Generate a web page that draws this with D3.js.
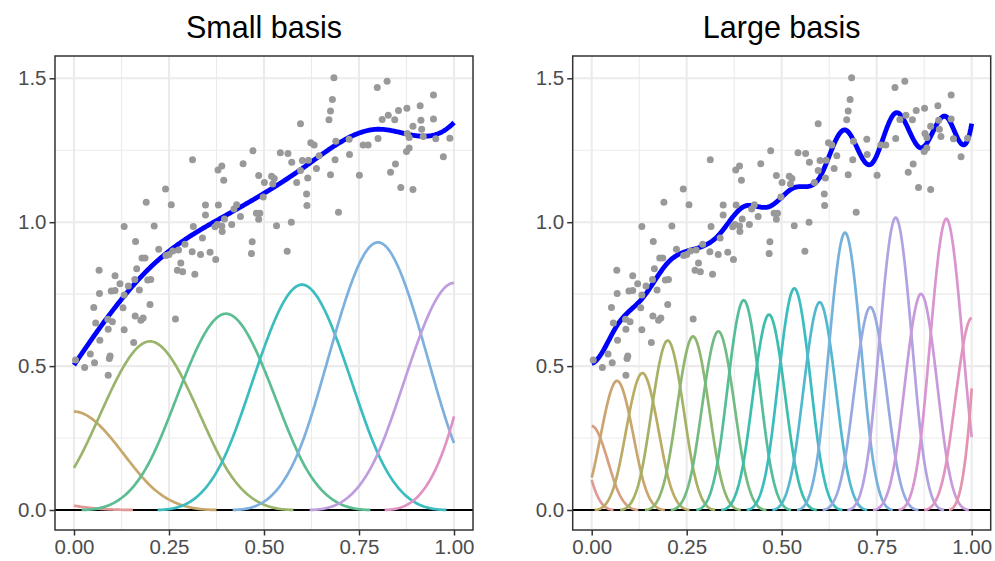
<!DOCTYPE html>
<html>
<head>
<meta charset="utf-8">
<script src="https://cdn.jsdelivr.net/npm/d3@7"></script>
<style>
  html, body { margin: 0; padding: 0; background: #ffffff; }
  svg { display: block; }
</style>
</head>
<body>
<svg id="chart" width="995" height="561"></svg>
<script>
// ---------------- data ----------------
const pointX = [
  0.004,0.028,0.054,0.043,0.090,0.095,0.093,0.068,0.057,0.052,0.067,0.066,0.089,0.101,0.090,0.132,
  0.098,0.108,0.108,0.121,0.132,0.143,0.129,0.157,0.161,0.176,0.182,0.172,0.160,0.165,0.162,0.132,
  0.179,0.187,0.190,0.200,0.194,0.202,0.211,0.223,0.241,0.256,0.267,0.242,0.250,0.260,0.275,0.281,
  0.272,0.286,0.292,0.311,0.314,0.312,0.318,
  0.338,0.333,0.358,0.373,0.346,0.346,0.380,0.379,0.389,0.394,0.371,0.377,0.389,0.390,0.396,0.415,
  0.421,0.428,0.438,0.445,0.471,0.469,0.467,0.480,0.489,0.486,0.486,0.498,0.501,0.520,0.527,0.523,
  0.533,0.543,0.563,0.573,0.572,0.561,0.586,0.596,0.596,0.601,0.617,0.615,0.612,0.613,0.623,0.632,
  0.638,0.645,
  0.684,0.680,0.675,0.671,0.689,0.687,0.675,0.696,0.724,0.725,0.751,0.761,0.774,0.798,0.824,0.800,
  0.811,0.827,0.844,0.854,0.876,0.846,0.833,0.860,0.892,0.877,0.882,0.875,0.882,0.892,0.911,0.913,
  0.915,0.919,0.946,0.946,0.952,0.972,0.989
];
const pointY = [
  0.521,0.495,0.512,0.542,0.468,0.535,0.526,0.590,0.650,0.704,0.752,0.833,0.663,0.654,0.628,0.626,
  0.761,0.763,0.814,0.786,0.747,0.778,0.703,0.582,0.674,0.659,0.667,0.764,0.801,0.838,0.933,0.985,
  0.876,0.876,1.069,0.714,0.799,0.801,0.987,0.906,1.115,1.061,0.664,0.884,0.888,0.900,0.903,0.858,
  0.833,0.828,0.923,0.897,0.985,1.217,0.819,
  0.945,0.888,0.896,0.870,1.060,1.025,1.060,1.181,1.195,1.146,0.984,0.992,0.987,0.968,1.011,0.992,
  1.046,1.061,1.020,1.203,1.248,0.932,0.891,1.031,1.031,1.010,1.162,1.088,1.138,1.160,1.152,1.133,
  0.988,1.241,1.239,1.208,1.000,0.899,1.138,1.180,1.342,1.214,1.215,1.154,1.098,1.058,1.276,1.268,
  1.187,1.231,
  1.502,1.426,1.386,1.356,1.281,1.217,1.165,1.035,1.288,1.235,1.163,1.268,1.268,1.468,1.490,1.291,
  1.357,1.372,1.356,1.388,1.396,1.202,1.174,1.121,1.114,1.308,1.294,1.246,1.258,1.333,1.405,1.354,
  1.323,1.298,1.442,1.359,1.290,1.227,1.292
];

// basis function centres (cubic B-splines on uniform knots) and their peak heights
const smallSpacing = 0.2;
const smallCenters = [-0.2, 0.0, 0.2, 0.4, 0.6, 0.8, 1.0, 1.2];
const smallPeaks   = [0.06, 0.342, 0.586, 0.682, 0.783, 0.930, 0.789, 1.30];

const largeSpacing = 1 / 15;
const largeCenters = [-1,0,1,2,3,4,5,6,7,8,9,10,11,12,13,14,15,16].map(k => k / 15);
const largePeaks   = [0.42, 0.292, 0.449, 0.476, 0.589, 0.603, 0.621, 0.729, 0.679, 0.770,
                      0.722, 0.964, 0.705, 1.016, 0.751, 1.012, 0.667, 1.69];

const titles = ["Small basis", "Large basis"];
const xTicks = [0, 0.25, 0.5, 0.75, 1.0];
const xTickLabels = ["0.00", "0.25", "0.50", "0.75", "1.00"];
const yTicks = [0, 0.5, 1.0, 1.5];
const yTickLabels = ["0.0", "0.5", "1.0", "1.5"];
const xMinor = [0.125, 0.375, 0.625, 0.875];
const yMinor = [0.25, 0.75, 1.25];

// ---------------- helpers ----------------
function bspline(x, c, h) {
  const t = Math.abs(x - c) / h;
  if (t < 1) return (4 - 6 * t * t + 3 * t * t * t) / 6;
  if (t < 2) return Math.pow(2 - t, 3) / 6;
  return 0;
}
// R's hcl() (polar LUV) -> hex
function hclLuv(h, c, l) {
  const Xn = 95.047, Yn = 100, Zn = 108.883;
  const den = Xn + 15 * Yn + 3 * Zn;
  const un = 4 * Xn / den, vn = 9 * Yn / den;
  const hr = h * Math.PI / 180;
  const U = c * Math.cos(hr), V = c * Math.sin(hr);
  const Y = l > 8 ? Yn * Math.pow((l + 16) / 116, 3) : Yn * l / 903.3;
  const up = U / (13 * l) + un, vp = V / (13 * l) + vn;
  const X = 9 * Y * up / (4 * vp);
  const Z = Y * (12 - 3 * up - 20 * vp) / (4 * vp);
  const x = X / 100, y = Y / 100, z = Z / 100;
  const r = 3.2404542 * x - 1.5371385 * y - 0.4985314 * z;
  const g = -0.9692660 * x + 1.8760108 * y + 0.0415560 * z;
  const b = 0.0556434 * x - 0.2040259 * y + 1.0572252 * z;
  const gam = v => {
    v = v <= 0.0031308 ? 12.92 * v : 1.055 * Math.pow(v, 1 / 2.4) - 0.055;
    return Math.max(0, Math.min(255, Math.round(v * 255)));
  };
  return d3.rgb(gam(r), gam(g), gam(b)).formatHex();
}

const svg = d3.select("#chart");
const fontFam = "'Liberation Sans', Arial, Helvetica, sans-serif";
const panelTop = 56, panelBottom = 530;
const xGrid = d3.range(0, 1.00001, 0.0025);

const panels = [
  { left: 55, right: 473, centers: smallCenters, peaks: smallPeaks, h: smallSpacing },
  { left: 572.7, right: 990.7, centers: largeCenters, peaks: largePeaks, h: largeSpacing }
];

panels.forEach((p, pi) => {
  const g = svg.append("g");
  const x = d3.scaleLinear().domain([-0.05, 1.05]).range([p.left, p.right]);
  const y = d3.scaleLinear().domain([-0.0695, 1.5775]).range([panelBottom, panelTop]);

  g.append("rect").attr("x", p.left).attr("y", panelTop)
    .attr("width", p.right - p.left).attr("height", panelBottom - panelTop).attr("fill", "#ffffff");

  // minor grid
  g.selectAll(".xmin").data(xMinor).join("line")
    .attr("x1", d => x(d)).attr("x2", d => x(d)).attr("y1", panelTop).attr("y2", panelBottom)
    .attr("stroke", "#EBEBEB").attr("stroke-width", 1.1);
  g.selectAll(".ymin").data(yMinor).join("line")
    .attr("y1", d => y(d)).attr("y2", d => y(d)).attr("x1", p.left).attr("x2", p.right)
    .attr("stroke", "#EBEBEB").attr("stroke-width", 1.1);
  // major grid
  g.selectAll(".xmaj").data(xTicks).join("line")
    .attr("x1", d => x(d)).attr("x2", d => x(d)).attr("y1", panelTop).attr("y2", panelBottom)
    .attr("stroke", "#EBEBEB").attr("stroke-width", 2.1);
  g.selectAll(".ymaj").data(yTicks).join("line")
    .attr("y1", d => y(d)).attr("y2", d => y(d)).attr("x1", p.left).attr("x2", p.right)
    .attr("stroke", "#EBEBEB").attr("stroke-width", 2.1);

  // hline at 0
  g.append("line").attr("x1", p.left).attr("x2", p.right)
    .attr("y1", y(0)).attr("y2", y(0)).attr("stroke", "#000000").attr("stroke-width", 1.8);

  // basis functions
  const n = p.centers.length;
  p.centers.forEach((c, i) => {
    const coef = p.peaks[i] * 1.5;
    const pts = xGrid.map(v => [v, coef * bspline(v, c, p.h)]);
    const col = hclLuv(15 + i * 360 / n, 50, 70);
    const line = d3.line().defined(d => d[1] > 1.5e-4)
      .x(d => x(d[0])).y(d => y(d[1]));
    g.append("path").datum(pts).attr("d", line)
      .attr("fill", "none").attr("stroke", col).attr("stroke-width", 2.7);
  });

  // smooth = sum of basis functions
  const smooth = xGrid.map(v => [v, d3.sum(p.centers, (c, i) => p.peaks[i] * 1.5 * bspline(v, c, p.h))]);
  g.append("path").datum(smooth)
    .attr("d", d3.line().x(d => x(d[0])).y(d => y(d[1])))
    .attr("fill", "none").attr("stroke", "#0000FF").attr("stroke-width", 4.8);

  // points
  g.selectAll(".pt").data(pointX.map((v, i) => [v, pointY[i]])).join("circle")
    .attr("cx", d => x(d[0])).attr("cy", d => y(d[1])).attr("r", 3.5)
    .attr("fill", "#999999");

  // border
  g.append("rect").attr("x", p.left).attr("y", panelTop)
    .attr("width", p.right - p.left).attr("height", panelBottom - panelTop)
    .attr("fill", "none").attr("stroke", "#333333").attr("stroke-width", 1.5);

  // axes
  const xAxis = d3.axisBottom(x).tickValues(xTicks).tickSize(5.5).tickPadding(4)
    .tickFormat((d, i) => xTickLabels[i]);
  const xa = g.append("g").attr("transform", `translate(0,${panelBottom})`).call(xAxis);
  const yAxis = d3.axisLeft(y).tickValues(yTicks).tickSize(5.5).tickPadding(3)
    .tickFormat((d, i) => yTickLabels[i]);
  const ya = g.append("g").attr("transform", `translate(${p.left},0)`).call(yAxis);
  [xa, ya].forEach(a => {
    a.select(".domain").remove();
    a.selectAll(".tick line").attr("stroke", "#333333").attr("stroke-width", 1.5);
    a.selectAll(".tick text").attr("fill", "#4D4D4D")
      .style("font-family", fontFam).style("font-size", "20.5px");
  });
  xa.selectAll(".tick text").attr("dy", "0.71em");

  // title
  svg.append("text").attr("x", (p.left + p.right) / 2).attr("y", 38)
    .attr("text-anchor", "middle").attr("fill", "#000000")
    .style("font-family", fontFam).style("font-size", "30.5px")
    .text(titles[pi]);
});
</script>
</body>
</html>
